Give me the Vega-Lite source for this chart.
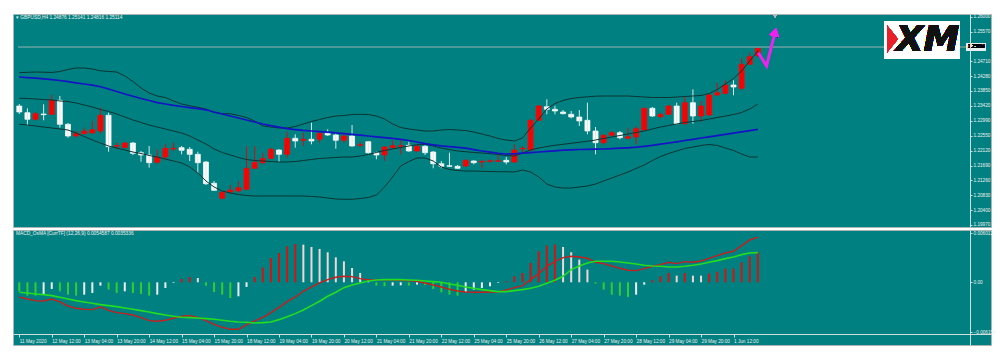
{
"$schema":"https://vega.github.io/schema/vega-lite/v6.json",
"background":"white",
"padding":{"left":12,"top":13,"right":10,"bottom":14},
"spacing":1,
"config":{
 "view":{"fill":"#008080","stroke":"#a9b4b4","strokeWidth":1},
 "font":"Liberation Sans",
 "axis":{"grid":false,"labelFont":"Liberation Sans","labelFontSize":4.7,"labelColor":"#f0f0f0","domainColor":"#d0dede","tickColor":"#d0dede","labelOverlap":false,"labelFlush":false,"labelBound":false}
},
"datasets":{"d":[
{"i":0,"o":1.23415,"h":1.23473,"l":1.23183,"c":1.23241,"bu":1.24379,"bm":1.23638,"bl":1.22885,"ma":1.24254,"m":-0.001803,"s":-0.001229,"hv":-0.00111,"tr":"d"},
{"i":1,"o":1.23221,"h":1.23348,"l":1.22856,"c":1.23030,"bu":1.24390,"bm":1.23632,"bl":1.22865,"ma":1.24237,"m":-0.002049,"s":-0.001311,"hv":-0.00164,"tr":"d"},
{"i":2,"o":1.23030,"h":1.23241,"l":1.22995,"c":1.23192,"bu":1.24399,"bm":1.23617,"bl":1.22836,"ma":1.24219,"m":-0.002253,"s":-0.001434,"hv":-0.00164,"tr":"d"},
{"i":3,"o":1.23183,"h":1.23464,"l":1.23001,"c":1.23163,"bu":1.24393,"bm":1.23603,"bl":1.22807,"ma":1.24202,"m":-0.002294,"s":-0.001516,"hv":-0.00152,"tr":"u"},
{"i":4,"o":1.23174,"h":1.23733,"l":1.23169,"c":1.23580,"bu":1.24385,"bm":1.23588,"bl":1.22778,"ma":1.24176,"m":-0.002049,"s":-0.001639,"hv":-0.00082,"tr":"u"},
{"i":5,"o":1.23580,"h":1.23704,"l":1.22787,"c":1.22885,"bu":1.24414,"bm":1.23560,"bl":1.22749,"ma":1.24153,"m":-0.002417,"s":-0.001844,"hv":-0.00111,"tr":"d"},
{"i":6,"o":1.22885,"h":1.22923,"l":1.22497,"c":1.22546,"bu":1.24471,"bm":1.23545,"bl":1.22720,"ma":1.24121,"m":-0.002909,"s":-0.002049,"hv":-0.00152,"tr":"d"},
{"i":7,"o":1.22546,"h":1.22691,"l":1.22497,"c":1.22624,"bu":1.24515,"bm":1.23502,"bl":1.22633,"ma":1.24086,"m":-0.003196,"s":-0.002253,"hv":-0.00164,"tr":"d"},
{"i":8,"o":1.22613,"h":1.22787,"l":1.22595,"c":1.22691,"bu":1.24515,"bm":1.23444,"bl":1.22532,"ma":1.24052,"m":-0.003319,"s":-0.002417,"hv":-0.00152,"tr":"u"},
{"i":9,"o":1.22633,"h":1.22981,"l":1.22613,"c":1.22729,"bu":1.24486,"bm":1.23386,"bl":1.22430,"ma":1.24017,"m":-0.003360,"s":-0.002581,"hv":-0.00131,"tr":"u"},
{"i":10,"o":1.22691,"h":1.23366,"l":1.22613,"c":1.23146,"bu":1.24434,"bm":1.23314,"bl":1.22344,"ma":1.23971,"m":-0.003032,"s":-0.002745,"hv":-0.00041,"tr":"u"},
{"i":11,"o":1.23146,"h":1.23221,"l":1.22092,"c":1.22236,"bu":1.24414,"bm":1.23256,"bl":1.22257,"ma":1.23907,"m":-0.003441,"s":-0.002868,"hv":-0.00090,"tr":"d"},
{"i":12,"o":1.22251,"h":1.22352,"l":1.22161,"c":1.22271,"bu":1.24399,"bm":1.23183,"bl":1.22199,"ma":1.23835,"m":-0.003728,"s":-0.002991,"hv":-0.00131,"tr":"d"},
{"i":13,"o":1.22208,"h":1.22373,"l":1.22190,"c":1.22344,"bu":1.24283,"bm":1.23096,"bl":1.22141,"ma":1.23762,"m":-0.003851,"s":-0.003155,"hv":-0.00111,"tr":"u"},
{"i":14,"o":1.22344,"h":1.22373,"l":1.21996,"c":1.22045,"bu":1.24124,"bm":1.23010,"bl":1.22083,"ma":1.23696,"m":-0.004015,"s":-0.003319,"hv":-0.00131,"tr":"d"},
{"i":15,"o":1.22063,"h":1.22112,"l":1.21802,"c":1.21996,"bu":1.23936,"bm":1.22937,"bl":1.22040,"ma":1.23632,"m":-0.004343,"s":-0.003482,"hv":-0.00143,"tr":"d"},
{"i":16,"o":1.21996,"h":1.22257,"l":1.21629,"c":1.21773,"bu":1.23791,"bm":1.22865,"bl":1.21982,"ma":1.23574,"m":-0.004712,"s":-0.003646,"hv":-0.00164,"tr":"d"},
{"i":17,"o":1.21785,"h":1.22161,"l":1.21744,"c":1.21938,"bu":1.23704,"bm":1.22807,"bl":1.21938,"ma":1.23513,"m":-0.004793,"s":-0.003851,"hv":-0.00152,"tr":"u"},
{"i":18,"o":1.21938,"h":1.22306,"l":1.21843,"c":1.22190,"bu":1.23661,"bm":1.22749,"bl":1.21880,"ma":1.23473,"m":-0.004671,"s":-0.004015,"hv":-0.00070,"tr":"u"},
{"i":19,"o":1.22170,"h":1.22352,"l":1.22112,"c":1.22190,"bu":1.23560,"bm":1.22691,"bl":1.21823,"ma":1.23432,"m":-0.004425,"s":-0.004179,"hv":-0.00008,"tr":"u"},
{"i":20,"o":1.22208,"h":1.22257,"l":1.22016,"c":1.22132,"bu":1.23473,"bm":1.22633,"bl":1.21765,"ma":1.23400,"m":-0.004179,"s":-0.004302,"hv":0.00041,"tr":"u"},
{"i":21,"o":1.22161,"h":1.22228,"l":1.21823,"c":1.22016,"bu":1.23421,"bm":1.22546,"bl":1.21649,"ma":1.23368,"m":-0.004097,"s":-0.004343,"hv":0.00066,"tr":"u"},
{"i":22,"o":1.22016,"h":1.22092,"l":1.21484,"c":1.21773,"bu":1.23380,"bm":1.22430,"bl":1.21475,"ma":1.23339,"m":-0.004302,"s":-0.004384,"hv":0.00053,"tr":"d"},
{"i":23,"o":1.21794,"h":1.21823,"l":1.21128,"c":1.21165,"bu":1.23327,"bm":1.22315,"bl":1.21244,"ma":1.23305,"m":-0.004712,"s":-0.004466,"hv":-0.00041,"tr":"d"},
{"i":24,"o":1.21177,"h":1.21244,"l":1.20954,"c":1.20974,"bu":1.23227,"bm":1.22170,"bl":1.21070,"ma":1.23241,"m":-0.005162,"s":-0.004548,"hv":-0.00119,"tr":"d"},
{"i":25,"o":1.20743,"h":1.20954,"l":1.20714,"c":1.20916,"bu":1.23192,"bm":1.22069,"bl":1.20954,"ma":1.23183,"m":-0.005531,"s":-0.004671,"hv":-0.00152,"tr":"d"},
{"i":26,"o":1.20925,"h":1.21128,"l":1.20876,"c":1.20983,"bu":1.23192,"bm":1.21996,"bl":1.20896,"ma":1.23125,"m":-0.005777,"s":-0.004793,"hv":-0.00193,"tr":"d"},
{"i":27,"o":1.20954,"h":1.21244,"l":1.20905,"c":1.21050,"bu":1.23140,"bm":1.21924,"bl":1.20853,"ma":1.23067,"m":-0.005777,"s":-0.004875,"hv":-0.00172,"tr":"u"},
{"i":28,"o":1.21003,"h":1.22248,"l":1.20974,"c":1.21611,"bu":1.23082,"bm":1.21866,"bl":1.20824,"ma":1.23010,"m":-0.005244,"s":-0.004916,"hv":-0.00057,"tr":"u"},
{"i":29,"o":1.21611,"h":1.22257,"l":1.21591,"c":1.21785,"bu":1.22981,"bm":1.21837,"bl":1.20810,"ma":1.22952,"m":-0.004753,"s":-0.004998,"hv":0.00066,"tr":"u"},
{"i":30,"o":1.21773,"h":1.22063,"l":1.21727,"c":1.21889,"bu":1.22836,"bm":1.21823,"bl":1.20810,"ma":1.22894,"m":-0.004302,"s":-0.004957,"hv":0.00184,"tr":"u"},
{"i":31,"o":1.21901,"h":1.22208,"l":1.21872,"c":1.22161,"bu":1.22807,"bm":1.21808,"bl":1.20810,"ma":1.22848,"m":-0.003728,"s":-0.004875,"hv":0.00299,"tr":"u"},
{"i":32,"o":1.22141,"h":1.22161,"l":1.21794,"c":1.22016,"bu":1.22778,"bm":1.21794,"bl":1.20810,"ma":1.22801,"m":-0.003073,"s":-0.004589,"hv":0.00361,"tr":"u"},
{"i":33,"o":1.22016,"h":1.22671,"l":1.21918,"c":1.22480,"bu":1.22778,"bm":1.21794,"bl":1.20810,"ma":1.22761,"m":-0.002376,"s":-0.004220,"hv":0.00442,"tr":"u"},
{"i":34,"o":1.22480,"h":1.22595,"l":1.22208,"c":1.22402,"bu":1.22821,"bm":1.21808,"bl":1.20810,"ma":1.22732,"m":-0.001803,"s":-0.003851,"hv":0.00471,"tr":"u"},
{"i":35,"o":1.22422,"h":1.22642,"l":1.22257,"c":1.22451,"bu":1.22894,"bm":1.21837,"bl":1.20810,"ma":1.22708,"m":-0.001106,"s":-0.003401,"hv":0.00463,"tr":"d"},
{"i":36,"o":1.22451,"h":1.22931,"l":1.22306,"c":1.22402,"bu":1.22966,"bm":1.21866,"bl":1.20795,"ma":1.22691,"m":-0.000574,"s":-0.002868,"hv":0.00434,"tr":"d"},
{"i":37,"o":1.22451,"h":1.22691,"l":1.22352,"c":1.22624,"bu":1.23024,"bm":1.21895,"bl":1.20781,"ma":1.22674,"m":-0.000082,"s":-0.002335,"hv":0.00410,"tr":"d"},
{"i":38,"o":1.22624,"h":1.22740,"l":1.22546,"c":1.22575,"bu":1.23082,"bm":1.21910,"bl":1.20752,"ma":1.22656,"m":0.000328,"s":-0.001721,"hv":0.00369,"tr":"d"},
{"i":39,"o":1.22575,"h":1.22662,"l":1.22179,"c":1.22422,"bu":1.23125,"bm":1.21924,"bl":1.20723,"ma":1.22639,"m":0.000615,"s":-0.001229,"hv":0.00307,"tr":"d"},
{"i":40,"o":1.22422,"h":1.22642,"l":1.22352,"c":1.22546,"bu":1.23140,"bm":1.21938,"bl":1.20714,"ma":1.22616,"m":0.000737,"s":-0.000656,"hv":0.00258,"tr":"d"},
{"i":41,"o":1.22546,"h":1.22865,"l":1.22236,"c":1.22257,"bu":1.23169,"bm":1.21938,"bl":1.20714,"ma":1.22593,"m":0.000696,"s":-0.000328,"hv":0.00176,"tr":"d"},
{"i":42,"o":1.22277,"h":1.22373,"l":1.22228,"c":1.22294,"bu":1.23174,"bm":1.21967,"bl":1.20737,"ma":1.22570,"m":0.000451,"s":-0.000082,"hv":0.00115,"tr":"d"},
{"i":43,"o":1.22381,"h":1.22402,"l":1.22034,"c":1.22063,"bu":1.23169,"bm":1.22010,"bl":1.20766,"ma":1.22546,"m":0.000287,"s":0.000164,"hv":0.00025,"tr":"d"},
{"i":44,"o":1.22063,"h":1.22092,"l":1.21872,"c":1.21996,"bu":1.23125,"bm":1.22069,"bl":1.20838,"ma":1.22523,"m":0.000287,"s":0.000287,"hv":-0.00041,"tr":"d"},
{"i":45,"o":1.21996,"h":1.22257,"l":1.21823,"c":1.22228,"bu":1.23038,"bm":1.22127,"bl":1.21070,"ma":1.22500,"m":0.000328,"s":0.000328,"hv":-0.00049,"tr":"d"},
{"i":46,"o":1.22208,"h":1.22422,"l":1.22161,"c":1.22266,"bu":1.22894,"bm":1.22170,"bl":1.21359,"ma":1.22477,"m":0.000287,"s":0.000328,"hv":-0.00041,"tr":"u"},
{"i":47,"o":1.22248,"h":1.22451,"l":1.22016,"c":1.22266,"bu":1.22792,"bm":1.22213,"bl":1.21678,"ma":1.22451,"m":0.000246,"s":0.000328,"hv":-0.00037,"tr":"u"},
{"i":48,"o":1.22277,"h":1.22381,"l":1.22092,"c":1.22112,"bu":1.22749,"bm":1.22257,"bl":1.21808,"ma":1.22416,"m":0.000205,"s":0.000287,"hv":-0.00041,"tr":"d"},
{"i":49,"o":1.22112,"h":1.22306,"l":1.22092,"c":1.22248,"bu":1.22720,"bm":1.22292,"bl":1.21910,"ma":1.22373,"m":0.000123,"s":0.000246,"hv":-0.00029,"tr":"u"},
{"i":50,"o":1.22248,"h":1.22277,"l":1.21996,"c":1.22063,"bu":1.22691,"bm":1.22306,"bl":1.21910,"ma":1.22326,"m":-0.000082,"s":0.000164,"hv":-0.00033,"tr":"d"},
{"i":51,"o":1.22083,"h":1.22112,"l":1.21611,"c":1.21744,"bu":1.22691,"bm":1.22257,"bl":1.21823,"ma":1.22292,"m":-0.000328,"s":0.000082,"hv":-0.00082,"tr":"d"},
{"i":52,"o":1.21744,"h":1.21823,"l":1.21611,"c":1.21669,"bu":1.22720,"bm":1.22199,"bl":1.21649,"ma":1.22263,"m":-0.000574,"s":0.0,"hv":-0.00123,"tr":"d"},
{"i":53,"o":1.21686,"h":1.22063,"l":1.21649,"c":1.21669,"bu":1.22734,"bm":1.22156,"bl":1.21576,"ma":1.22240,"m":-0.000860,"s":-0.000205,"hv":-0.00152,"tr":"d"},
{"i":54,"o":1.21669,"h":1.21707,"l":1.21600,"c":1.21611,"bu":1.22720,"bm":1.22112,"bl":1.21548,"ma":1.22217,"m":-0.001065,"s":-0.000369,"hv":-0.00164,"tr":"d"},
{"i":55,"o":1.21678,"h":1.21872,"l":1.21649,"c":1.21843,"bu":1.22705,"bm":1.22092,"bl":1.21533,"ma":1.22193,"m":-0.001188,"s":-0.000574,"hv":-0.00119,"tr":"u"},
{"i":56,"o":1.21823,"h":1.21843,"l":1.21727,"c":1.21773,"bu":1.22662,"bm":1.22069,"bl":1.21533,"ma":1.22153,"m":-0.001229,"s":-0.000737,"hv":-0.00090,"tr":"u"},
{"i":57,"o":1.21794,"h":1.21843,"l":1.21611,"c":1.21814,"bu":1.22604,"bm":1.22054,"bl":1.21524,"ma":1.22112,"m":-0.001229,"s":-0.000901,"hv":-0.00070,"tr":"u"},
{"i":58,"o":1.21814,"h":1.21872,"l":1.21773,"c":1.21831,"bu":1.22546,"bm":1.22034,"bl":1.21518,"ma":1.22077,"m":-0.001188,"s":-0.001024,"hv":-0.00049,"tr":"u"},
{"i":59,"o":1.21814,"h":1.21996,"l":1.21794,"c":1.21831,"bu":1.22474,"bm":1.22011,"bl":1.21513,"ma":1.22043,"m":-0.001188,"s":-0.001147,"hv":-0.00008,"tr":"u"},
{"i":60,"o":1.21843,"h":1.21938,"l":1.21727,"c":1.21794,"bu":1.22430,"bm":1.21982,"bl":1.21513,"ma":1.22025,"m":-0.000942,"s":-0.001147,"hv":0.00012,"tr":"u"},
{"i":61,"o":1.21794,"h":1.22306,"l":1.21773,"c":1.22141,"bu":1.22402,"bm":1.21967,"bl":1.21504,"ma":1.22031,"m":-0.000656,"s":-0.001024,"hv":0.00074,"tr":"u"},
{"i":62,"o":1.22170,"h":1.22257,"l":1.22063,"c":1.22190,"bu":1.22488,"bm":1.22054,"bl":1.21562,"ma":1.22048,"m":-0.000410,"s":-0.000901,"hv":0.00115,"tr":"u"},
{"i":63,"o":1.22141,"h":1.23030,"l":1.22112,"c":1.23001,"bu":1.22778,"bm":1.22141,"bl":1.21504,"ma":1.22063,"m":0.000328,"s":-0.000737,"hv":0.00238,"tr":"u"},
{"i":64,"o":1.23001,"h":1.23444,"l":1.22981,"c":1.23415,"bu":1.23038,"bm":1.22199,"bl":1.21359,"ma":1.22083,"m":0.001065,"s":-0.000492,"hv":0.00381,"tr":"u"},
{"i":65,"o":1.23394,"h":1.23609,"l":1.23174,"c":1.23319,"bu":1.23327,"bm":1.22242,"bl":1.21157,"ma":1.22100,"m":0.001967,"s":-0.000123,"hv":0.00451,"tr":"u"},
{"i":66,"o":1.23319,"h":1.23415,"l":1.23174,"c":1.23270,"bu":1.23487,"bm":1.22277,"bl":1.21070,"ma":1.22118,"m":0.002581,"s":0.000246,"hv":0.00463,"tr":"u"},
{"i":67,"o":1.23241,"h":1.23299,"l":1.23174,"c":1.23192,"bu":1.23574,"bm":1.22306,"bl":1.21041,"ma":1.22135,"m":0.003032,"s":0.000737,"hv":0.00434,"tr":"d"},
{"i":68,"o":1.23174,"h":1.23270,"l":1.23059,"c":1.23096,"bu":1.23632,"bm":1.22335,"bl":1.21041,"ma":1.22147,"m":0.003196,"s":0.001557,"hv":0.00369,"tr":"d"},
{"i":69,"o":1.23096,"h":1.23299,"l":1.22836,"c":1.22981,"bu":1.23661,"bm":1.22364,"bl":1.21070,"ma":1.22156,"m":0.003114,"s":0.002008,"hv":0.00279,"tr":"d"},
{"i":70,"o":1.23001,"h":1.23510,"l":1.22595,"c":1.22691,"bu":1.23681,"bm":1.22393,"bl":1.21099,"ma":1.22161,"m":0.002950,"s":0.002376,"hv":0.00156,"tr":"d"},
{"i":71,"o":1.22691,"h":1.22807,"l":1.22016,"c":1.22352,"bu":1.23699,"bm":1.22430,"bl":1.21157,"ma":1.22164,"m":0.002458,"s":0.002581,"hv":-0.00016,"tr":"d"},
{"i":72,"o":1.22352,"h":1.22595,"l":1.22306,"c":1.22567,"bu":1.23704,"bm":1.22474,"bl":1.21244,"ma":1.22170,"m":0.002294,"s":0.002581,"hv":-0.00090,"tr":"d"},
{"i":73,"o":1.22567,"h":1.22691,"l":1.22546,"c":1.22642,"bu":1.23704,"bm":1.22517,"bl":1.21330,"ma":1.22182,"m":0.002008,"s":0.002581,"hv":-0.00152,"tr":"d"},
{"i":74,"o":1.22642,"h":1.22691,"l":1.22451,"c":1.22497,"bu":1.23704,"bm":1.22561,"bl":1.21417,"ma":1.22193,"m":0.001721,"s":0.002499,"hv":-0.00164,"tr":"d"},
{"i":75,"o":1.22480,"h":1.22787,"l":1.22451,"c":1.22526,"bu":1.23704,"bm":1.22604,"bl":1.21504,"ma":1.22205,"m":0.001475,"s":0.002376,"hv":-0.00180,"tr":"d"},
{"i":76,"o":1.22517,"h":1.22836,"l":1.22306,"c":1.22758,"bu":1.23690,"bm":1.22648,"bl":1.21606,"ma":1.22222,"m":0.001434,"s":0.002253,"hv":-0.00152,"tr":"u"},
{"i":77,"o":1.22720,"h":1.23366,"l":1.22691,"c":1.23348,"bu":1.23675,"bm":1.22691,"bl":1.21707,"ma":1.22248,"m":0.001680,"s":0.002089,"hv":-0.00029,"tr":"u"},
{"i":78,"o":1.23348,"h":1.23386,"l":1.23096,"c":1.23125,"bu":1.23661,"bm":1.22749,"bl":1.21837,"ma":1.22277,"m":0.001967,"s":0.002008,"hv":0.00025,"tr":"u"},
{"i":79,"o":1.23105,"h":1.23221,"l":1.23059,"c":1.23174,"bu":1.23661,"bm":1.22807,"bl":1.21953,"ma":1.22309,"m":0.002171,"s":0.001967,"hv":0.00074,"tr":"u"},
{"i":80,"o":1.23174,"h":1.23444,"l":1.23154,"c":1.23415,"bu":1.23661,"bm":1.22851,"bl":1.22040,"ma":1.22344,"m":0.002458,"s":0.001885,"hv":0.00115,"tr":"u"},
{"i":81,"o":1.23415,"h":1.23510,"l":1.22885,"c":1.22902,"bu":1.23675,"bm":1.22894,"bl":1.22112,"ma":1.22378,"m":0.002294,"s":0.001885,"hv":0.00082,"tr":"d"},
{"i":82,"o":1.22902,"h":1.23675,"l":1.22885,"c":1.23510,"bu":1.23690,"bm":1.22937,"bl":1.22185,"ma":1.22416,"m":0.002540,"s":0.001967,"hv":0.00115,"tr":"u"},
{"i":83,"o":1.23510,"h":1.23898,"l":1.22902,"c":1.23125,"bu":1.23704,"bm":1.22966,"bl":1.22228,"ma":1.22451,"m":0.002458,"s":0.002089,"hv":0.00082,"tr":"d"},
{"i":84,"o":1.23125,"h":1.23560,"l":1.22960,"c":1.23415,"bu":1.23719,"bm":1.22995,"bl":1.22272,"ma":1.22488,"m":0.002622,"s":0.002253,"hv":0.00082,"tr":"d"},
{"i":85,"o":1.23154,"h":1.23771,"l":1.23125,"c":1.23733,"bu":1.23777,"bm":1.23038,"bl":1.22301,"ma":1.22523,"m":0.002950,"s":0.002458,"hv":0.00107,"tr":"u"},
{"i":86,"o":1.23733,"h":1.24089,"l":1.23704,"c":1.23800,"bu":1.23892,"bm":1.23082,"bl":1.22272,"ma":1.22558,"m":0.003278,"s":0.002663,"hv":0.00131,"tr":"u"},
{"i":87,"o":1.23782,"h":1.24159,"l":1.23753,"c":1.24023,"bu":1.24052,"bm":1.23125,"bl":1.22199,"ma":1.22593,"m":0.003605,"s":0.002909,"hv":0.00168,"tr":"u"},
{"i":88,"o":1.24023,"h":1.24159,"l":1.23725,"c":1.23965,"bu":1.24211,"bm":1.23169,"bl":1.22127,"ma":1.22627,"m":0.003810,"s":0.003114,"hv":0.00168,"tr":"u"},
{"i":89,"o":1.23927,"h":1.24796,"l":1.23869,"c":1.24622,"bu":1.24428,"bm":1.23227,"bl":1.22025,"ma":1.22665,"m":0.004507,"s":0.003401,"hv":0.00246,"tr":"u"},
{"i":90,"o":1.24622,"h":1.24958,"l":1.24602,"c":1.24842,"bu":1.24718,"bm":1.23327,"bl":1.21938,"ma":1.22703,"m":0.005203,"s":0.003605,"hv":0.00320,"tr":"u"},
{"i":91,"o":1.24876,"h":1.25141,"l":1.24816,"c":1.25114,"bu":1.25007,"bm":1.23473,"bl":1.21938,"ma":1.22738,"m":0.005550,"s":0.003650,"hv":0.00369,"tr":"u"}
]},
"vconcat":[
{
 "width":978,"height":213,
 "title":{"text":"▾ GBPUSD,H4  1.24876 1.25141 1.24816 1.25114","anchor":"start","frame":"group","offset":-6.5,"dx":3,"fontSize":4.8,"fontWeight":"normal","color":"#f2f2f2","font":"Liberation Sans"},
 "data":{"name":"d"},
 "encoding":{"x":{"field":"i","type":"quantitative","scale":{"domain":[-0.1585,119.11],"nice":false,"zero":false},"axis":null}},
 "layer":[
  {"mark":{"type":"bar","size":5,"strokeWidth":0.7},
   "encoding":{"y":{"field":"o","type":"quantitative","scale":{"domain":[1.19912,1.26078],"nice":false,"zero":false},
     "axis":{"orient":"right","offset":-21,"values":[1.26,1.2557,1.2471,1.2428,1.2385,1.2342,1.2299,1.2255,1.2212,1.2169,1.2126,1.2083,1.204,1.1997],"tickCount":40,"format":".5f","tickSize":2,"labelPadding":1,"title":null,"grid":false,"domain":true,"ticks":true,"labels":true,"zindex":1,"labelOverlap":false,"labelFlush":false,"labelBound":false}},
    "y2":{"field":"c"},
    "fill":{"condition":{"test":"datum.c >= datum.o","value":"#ff0000"},"value":"#ffffff"},
    "stroke":{"condition":{"test":"datum.c >= datum.o","value":"#ff0000"},"value":"#ffffff"}}},
  {"mark":{"type":"rule","strokeWidth":1},
   "encoding":{"y":{"field":"h","type":"quantitative","title":null},"y2":{"field":"l"},
    "color":{"condition":{"test":"datum.c >= datum.o","value":"#d01010"},"value":"#d8e8e8"}}},
  {"mark":{"type":"rule","color":"#4f9c9c","strokeWidth":1},
   "encoding":{"x":{"datum":-0.1585},"x2":{"datum":119.11},"y":{"datum":1.25114,"type":"quantitative","title":null}}},
  {"transform":[{"fold":["bu","bm","bl"],"as":["band","v"]}],
   "mark":{"type":"line","color":"#0c3434","strokeWidth":1},
   "encoding":{"y":{"field":"v","type":"quantitative","title":null},"detail":{"field":"band"}}},
  {"mark":{"type":"line","color":"#1414c4","strokeWidth":1.7},
   "encoding":{"y":{"field":"ma","type":"quantitative","title":null}}},
  {"mark":{"type":"rect","fill":"#ffffff"},
   "encoding":{"x":{"datum":106.6},"x2":{"datum":115.9},"y":{"datum":1.25876,"type":"quantitative","title":null},"y2":{"datum":1.24796}}},
  {"mark":{"type":"point","shape":"M -0.35 -1 L 0.45 0 L -0.35 1 Z","filled":true,"fill":"#e8202a","opacity":1,"size":700,"strokeWidth":0},
   "encoding":{"x":{"datum":107.5},"y":{"datum":1.25354,"type":"quantitative","title":null}}},
  {"mark":{"type":"text","text":"XM","font":"DejaVu Sans","fontWeight":"bold","fontStyle":"italic","fontSize":36,"color":"#111111","align":"center","baseline":"middle"},
   "encoding":{"x":{"datum":111.9},"y":{"datum":1.25325,"type":"quantitative","title":null}}},
  {"data":{"values":[{"i":91.06,"p":1.24958},{"i":92.07,"p":1.24573},{"i":93.0,"p":1.25441}]},
   "mark":{"type":"line","color":"#f020f0","strokeWidth":3},
   "encoding":{"x":{"field":"i","type":"quantitative"},"y":{"field":"p","type":"quantitative","title":null}}},
  {"mark":{"type":"point","shape":"triangle-up","filled":true,"fill":"#f020f0","opacity":1,"size":90,"angle":14,"strokeWidth":0},
   "encoding":{"x":{"datum":93.13},"y":{"datum":1.25557,"type":"quantitative","title":null}}},
  {"mark":{"type":"point","shape":"triangle-down","filled":true,"fill":"#b8b8b8","opacity":1,"size":14,"strokeWidth":0},
   "encoding":{"x":{"datum":93.13},"y":{"datum":1.2602,"type":"quantitative","title":null}}},
  {"mark":{"type":"rect","fill":"#e8eeee"},
   "encoding":{"x":{"datum":116.65},"x2":{"datum":119.11},"y":{"datum":1.25214,"type":"quantitative","title":null},"y2":{"datum":1.25014}}},
  {"mark":{"type":"text","text":"1.25114","fontSize":4.7,"font":"Liberation Sans","color":"#000000","align":"left","baseline":"middle"},
   "encoding":{"x":{"datum":116.9},"y":{"datum":1.25114,"type":"quantitative","title":null}}}
 ]
},
{
 "width":978,"height":115,
 "title":{"text":"MACD_OsMA [CurrTF] (12,26,9) 0.0054587 0.0035336","anchor":"start","frame":"group","offset":-5.5,"dx":3,"fontSize":4.8,"fontWeight":"normal","color":"#f2f2f2","font":"Liberation Sans"},
 "data":{"name":"d"},
 "encoding":{"x":{"field":"i","type":"quantitative","scale":{"domain":[-0.1585,119.11],"nice":false,"zero":false},
   "axis":{"orient":"bottom","offset":-11,"values":[0,4,8,12,16,20,24,28,32,36,40,44,48,52,56,60,64,68,72,76,80,84,88],"tickCount":60,"tickSize":3,"labelPadding":1,"labelAlign":"left","labelBaseline":"top","labelDx":1,"labelOverlap":false,"labelFlush":false,"labelBound":false,
    "labelExpr":"['11 May 2020','12 May 12:00','13 May 04:00','13 May 20:00','14 May 12:00','15 May 04:00','15 May 20:00','18 May 12:00','19 May 04:00','19 May 20:00','20 May 12:00','21 May 04:00','21 May 20:00','22 May 12:00','25 May 04:00','25 May 20:00','26 May 12:00','27 May 04:00','27 May 20:00','28 May 12:00','29 May 04:00','29 May 20:00','1 Jun 12:00'][round(datum.value/4)]","title":null}}},
 "layer":[
  {"mark":{"type":"bar","size":2},
   "encoding":{"y":{"field":"hv","type":"quantitative","scale":{"domain":[-0.007706,0.006428],"nice":false,"zero":false},
     "axis":{"orient":"right","offset":-21,"values":[0.006012,0,-0.006156],"tickCount":10,"labelExpr":"datum.value==0 ? '0.00' : format(datum.value,'.6f')","tickSize":2,"labelPadding":1,"title":null,"grid":false,"domain":true,"ticks":true,"labels":true,"zindex":1,"labelOverlap":false,"labelFlush":false,"labelBound":false}},
    "y2":{"datum":0},
    "color":{"condition":[{"test":"datum.tr=='u' && datum.hv>0","value":"#d41414"},{"test":"datum.tr=='d' && datum.hv<=0","value":"#2fcf2f"},{"test":"datum.hv>0","value":"#f2d6d6"}],"value":"#eeeeee"}}},
  {"mark":{"type":"line","color":"#c81e1e","strokeWidth":1.4},
   "encoding":{"y":{"field":"m","type":"quantitative","title":null}}},
  {"mark":{"type":"line","color":"#22dd22","strokeWidth":1.6},
   "encoding":{"y":{"field":"s","type":"quantitative","title":null}}}
 ]
}
]
}
